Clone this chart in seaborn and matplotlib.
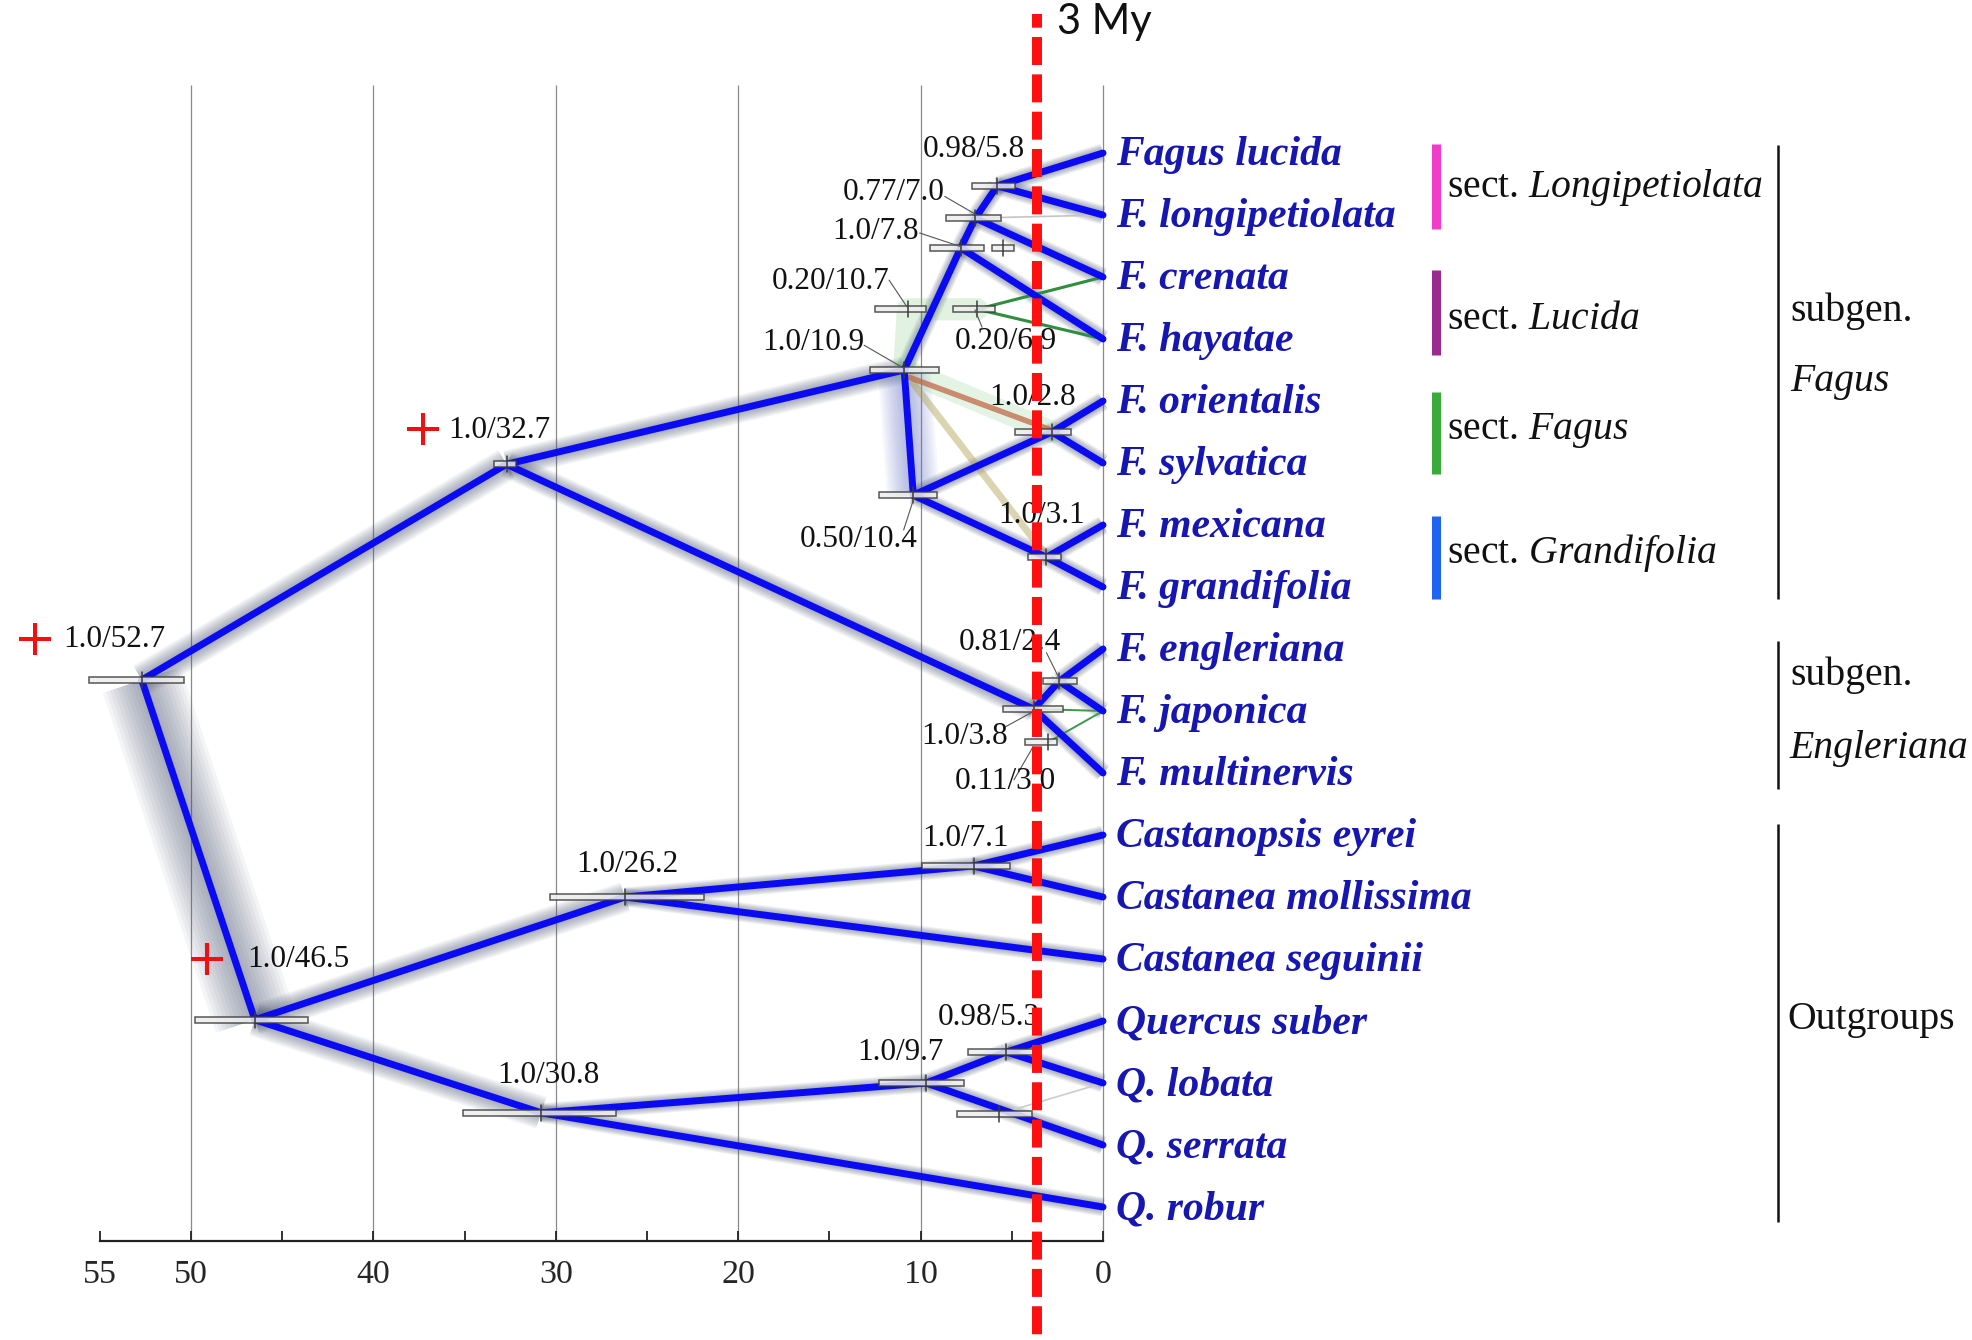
import numpy as np
import pandas as pd
import matplotlib
matplotlib.use('Agg')
import matplotlib.pyplot as plt
import seaborn as sns
from matplotlib.patches import Rectangle

# tips, top to bottom (tip i sits at vertical position i)
taxa = ['Fagus lucida', 'F. longipetiolata', 'F. crenata', 'F. hayatae',
        'F. orientalis', 'F. sylvatica', 'F. mexicana', 'F. grandifolia',
        'F. engleriana', 'F. japonica', 'F. multinervis',
        'Castanopsis eyrei', 'Castanea mollissima', 'Castanea seguinii',
        'Quercus suber', 'Q. lobata', 'Q. serrata', 'Q. robur']

# internal nodes of the consensus tree: age (My) and vertical position
node_names = ['root', 'n32', 'n109', 'n78', 'n70', 'n58', 'n104', 'n28', 'n31',
              'n38', 'n24', 'n46', 'n262', 'n71', 'n308', 'n97', 'n53']
node_ages = [52.7, 32.7, 10.9, 7.8, 7.0, 5.8, 10.4, 2.8, 3.1,
             3.8, 2.4, 46.5, 26.2, 7.1, 30.8, 9.7, 5.3]
node_pos = [8.5, 5.02, 3.5, 1.53, 1.05, 0.53, 5.52, 4.5, 6.52,
            8.97, 8.52, 13.98, 12.0, 11.5, 15.48, 15.0, 14.5]

edges = [('root', 'n32'), ('root', 'n46'), ('n32', 'n109'), ('n32', 'n38'),
         ('n109', 'n78'), ('n109', 'n104'), ('n78', 'n70'), ('n78', 'F. hayatae'),
         ('n70', 'n58'), ('n70', 'F. crenata'), ('n58', 'Fagus lucida'),
         ('n58', 'F. longipetiolata'), ('n104', 'n28'), ('n104', 'n31'),
         ('n28', 'F. orientalis'), ('n28', 'F. sylvatica'), ('n31', 'F. mexicana'),
         ('n31', 'F. grandifolia'), ('n38', 'n24'), ('n38', 'F. multinervis'),
         ('n24', 'F. engleriana'), ('n24', 'F. japonica'), ('n46', 'n262'),
         ('n46', 'n308'), ('n262', 'n71'), ('n262', 'Castanea seguinii'),
         ('n71', 'Castanopsis eyrei'), ('n71', 'Castanea mollissima'),
         ('n308', 'n97'), ('n308', 'Q. robur'), ('n97', 'n53'), ('n97', 'Q. serrata'),
         ('n53', 'Quercus suber'), ('n53', 'Q. lobata')]

# width of the blurred cloud around each branch (by child)
halo = {'n46': 55, 'n32': 20, 'n109': 16, 'n38': 15, 'n104': 34,
        'n262': 18, 'n308': 20}

# 95% HPD bars: position, older bound, younger bound, node age
bar_pos = [8.5, 5.02, 13.98, 12.0, 15.48, 3.5, 5.52, 2.52, 1.53, 1.53, 1.05, 2.52,
           0.53, 4.5, 6.52, 8.52, 8.97, 9.5, 11.5, 15.0, 14.5, 15.5]
bar_old = [55.6, 33.4, 49.8, 30.3, 35.1, 12.8, 12.3, 12.5, 9.5, 6.1, 8.6, 8.2,
           7.2, 4.8, 4.1, 3.3, 5.5, 4.3, 9.9, 12.3, 7.4, 8.0]
bar_young = [50.4, 32.2, 43.6, 21.9, 26.7, 9.0, 9.1, 9.7, 6.5, 4.9, 5.6, 5.9,
             4.8, 1.75, 2.3, 1.4, 2.2, 2.5, 5.1, 7.6, 3.8, 3.9]
bar_mid = [52.7, 32.7, 46.5, 26.2, 30.8, 10.9, 10.4, 10.7, 7.8, 5.5, 7.0, 6.9,
           5.8, 2.8, 3.1, 2.4, 3.8, 3.0, 7.1, 9.7, 5.3, 5.7]

# posterior / age labels
lab_text = ['1.0/52.7', '1.0/32.7', '1.0/46.5', '1.0/26.2', '1.0/30.8', '1.0/7.1',
            '0.98/5.3', '1.0/9.7', '0.98/5.8', '0.77/7.0', '1.0/7.8', '0.20/10.7',
            '1.0/10.9', '0.20/6.9', '1.0/2.8', '0.50/10.4', '1.0/3.1', '0.81/2.4',
            '1.0/3.8', '0.11/3.0']
lab_age = [57.0, 35.9, 46.9, 28.9, 33.2, 9.92, 9.05, 13.5, 9.87, 8.68, 10.1, 11.73,
           13.1, 8.11, 6.25, 10.14, 5.76, 7.92, 5.2, 8.14]
lab_pos = [7.84, 4.47, 13.0, 11.47, 14.88, 11.05, 13.95, 14.5, -0.05, 0.63, 1.27, 2.08,
           3.06, 3.04, 3.95, 6.24, 5.84, 7.9, 9.41, 10.14]
lab_ha = ['left'] * 9 + ['right'] * 4 + ['left', 'left', 'right', 'left', 'left', 'right', 'left']

leaders = [(8.68, 0.70, 6.92, 1.0), (10.05, 1.29, 7.8, 1.51), (11.73, 2.05, 10.75, 2.48),
           (13.1, 3.1, 10.93, 3.47), (6.63, 2.81, 7.02, 2.53), (10.36, 5.56, 10.93, 6.08),
           (3.1, 8.06, 2.36, 8.5), (5.32, 9.25, 3.84, 9.01), (4.88, 10.11, 3.84, 9.58)]

# calibration points
calib_age = [58.55, 37.3, 49.1]
calib_pos = [7.84, 4.45, 13.0]

# sections and subgenera
sect_names = ['Longipetiolata', 'Lucida', 'Fagus', 'Grandifolia']
sect_colors = ['#f03cc8', '#9a2a8e', '#3aaa3a', '#1e64f0']
sect_top = [-0.145, 1.89, 3.85, 5.85]
sect_bottom = [1.23, 3.26, 5.18, 7.19]
sect_pos = [0.55, 2.68, 4.48, 6.45]
group_top = [-0.13, 7.87, 10.82]
group_bottom = [7.19, 10.26, 17.24]

BLUE = '#0b0bf2'
TIPBLUE = '#1616b0'

sns.set_theme(style='white')
plt.rcParams['font.family'] = ['Liberation Serif', 'DejaVu Serif']
plt.rcParams['mathtext.fontset'] = 'custom'
plt.rcParams['mathtext.rm'] = 'Liberation Serif'
plt.rcParams['mathtext.it'] = 'Liberation Serif:italic'

fig = plt.figure(figsize=(19.72, 13.40), dpi=100)
ax = fig.add_axes([0, 0, 1, 1])

node_xy = {n: (a, p) for n, a, p in zip(node_names, node_ages, node_pos)}
for i, t in enumerate(taxa):
    node_xy[t] = (0.0, float(i))

# vertical grid lines
ax.vlines([50, 40, 30, 20, 10, 0], -1.09, 17.55, color='#8a8a8a', lw=0.9, zorder=0)

# blurred clouds behind the branches
for p, c in edges:
    (x0, y0), (x1, y1) = node_xy[p], node_xy[c]
    w = halo.get(c, 10)
    col = '#6a78c8' if c == 'n104' else '#4c5672'
    for k in range(10):
        ax.plot([x0, x1], [y0, y1], color=col, alpha=0.06,
                lw=w * (1 - k / 10) + 4, solid_capstyle='butt', zorder=1)

# alternative topologies
ax.plot([10.9, 10.7, 6.9], [3.5, 2.52, 2.52], color='#78c878', alpha=0.22, lw=16, zorder=1)
ax.plot([10.9, 2.8], [3.5, 4.5], color='#78c878', alpha=0.2, lw=16, zorder=1)
ax.plot([10.4, 3.1], [3.72, 6.5], color='#b0a050', alpha=0.45, lw=5, zorder=2)
ax.plot([10.6, 3.0], [3.62, 4.45], color='#c0603c', alpha=0.7, lw=4, zorder=2)
for tip in [2, 3]:
    ax.plot([6.9, 0], [2.52, tip], color='#2f8f3f', lw=2.2, zorder=2)
ax.plot([7.0, 0], [1.05, 1.0], color='#c4c4c4', lw=1.2, zorder=2)
ax.plot([3.4, 0], [8.97, 9.0], color='#3a9a4a', lw=1.4, zorder=2)
ax.plot([3.0, 0], [9.5, 9.0], color='#3a9a4a', lw=1.4, zorder=2)
ax.plot([5.7, 0], [15.5, 15.0], color='#cccccc', lw=1.2, zorder=2)

# consensus tree branches
rows = []
for k, (p, c) in enumerate(edges):
    for n in (p, c):
        rows.append({'edge': k, 'age': node_xy[n][0], 'pos': node_xy[n][1]})
df = pd.DataFrame(rows)
sns.lineplot(data=df, x='age', y='pos', units='edge', estimator=None, sort=False,
             color=BLUE, lw=5.0, legend=False, ax=ax, zorder=3)

# HPD bars
for p, o, yg, m in zip(bar_pos, bar_old, bar_young, bar_mid):
    ax.add_patch(Rectangle((yg, p - 0.05), o - yg, 0.1, facecolor='#eeeeee',
                           edgecolor='#3a3a3a', lw=1.1, alpha=0.85, zorder=4))
    ax.plot([m, m], [p - 0.13, p + 0.13], color='#3a3a3a', lw=1.1, zorder=4)

# node labels
for t, a, p, h in zip(lab_text, lab_age, lab_pos, lab_ha):
    ax.text(a, p, t, fontsize=22.5, ha=h, va='center', color='#111111', zorder=6)
for x0, y0, x1, y1 in leaders:
    ax.plot([x0, x1], [y0, y1], color='#555555', lw=0.8, zorder=5)

ax.plot(calib_age, calib_pos, ls='none', marker='+', ms=23, mew=2.9, color='#ee1111', zorder=6)

# tip labels
for i, t in enumerate(taxa):
    ax.text(-0.7, i + 0.04, t, fontsize=30, fontweight='bold', fontstyle='italic',
            color=TIPBLUE, ha='left', va='center', zorder=6)

# section bars and labels
for nm, col, t0, t1, p in zip(sect_names, sect_colors, sect_top, sect_bottom, sect_pos):
    ax.plot([-18.28, -18.28], [t0, t1], color=col, lw=6.5, solid_capstyle='butt')
    ax.text(-18.86, p, 'sect. $' + nm + '$', fontsize=28.6, ha='left', va='center',
            color='#111111')
for t0, t1 in zip(group_top, group_bottom):
    ax.plot([-37.0, -37.0], [t0, t1], color='#111111', lw=1.8, solid_capstyle='butt')
ax.text(-37.66, 2.56, 'subgen.', fontsize=28.6, ha='left', va='center', color='#111111')
ax.text(-37.66, 3.68, 'Fagus', fontsize=28.6, style='italic', ha='left', va='center', color='#111111')
ax.text(-37.66, 8.42, 'subgen.', fontsize=28.6, ha='left', va='center', color='#111111')
ax.text(-37.66, 9.61, 'Engleriana', fontsize=28.6, style='italic', ha='left', va='center', color='#111111')
ax.text(-37.5, 13.97, 'Outgroups', fontsize=28.6, ha='left', va='center', color='#111111')

# 3 My line
ax.plot([3.62, 3.62], [-2.245, 19.2], color='#ff1010', lw=7.2,
        ls=(1.43, (2.8, 0.933)), zorder=7)
ax.text(2.52, -2.12, '3 My', fontsize=30, family=['Lato', 'DejaVu Sans'],
        ha='left', va='center', color='#111111', zorder=7)

# time axis
ax.set_xlim(60.47, -47.64)
ax.set_ylim(19.145, -2.468)
for s in ['top', 'left', 'right']:
    ax.spines[s].set_visible(False)
ax.spines['bottom'].set_position(('data', 17.55))
ax.spines['bottom'].set_bounds(55, 0)
ax.spines['bottom'].set_color('#222222')
ax.spines['bottom'].set_linewidth(1.6)
ax.set_xticks([55, 50, 40, 30, 20, 10, 0])
ax.set_xticks([45, 35, 25, 15, 5], minor=True)
ax.tick_params(axis='x', which='both', direction='in', length=7, width=1.3,
               color='#222222', labelsize=24.5, pad=13, bottom=True)
ax.set_yticks([])
ax.set_xlabel('')
ax.set_ylabel('')

fig.savefig('out.png', dpi=100, facecolor='white')
